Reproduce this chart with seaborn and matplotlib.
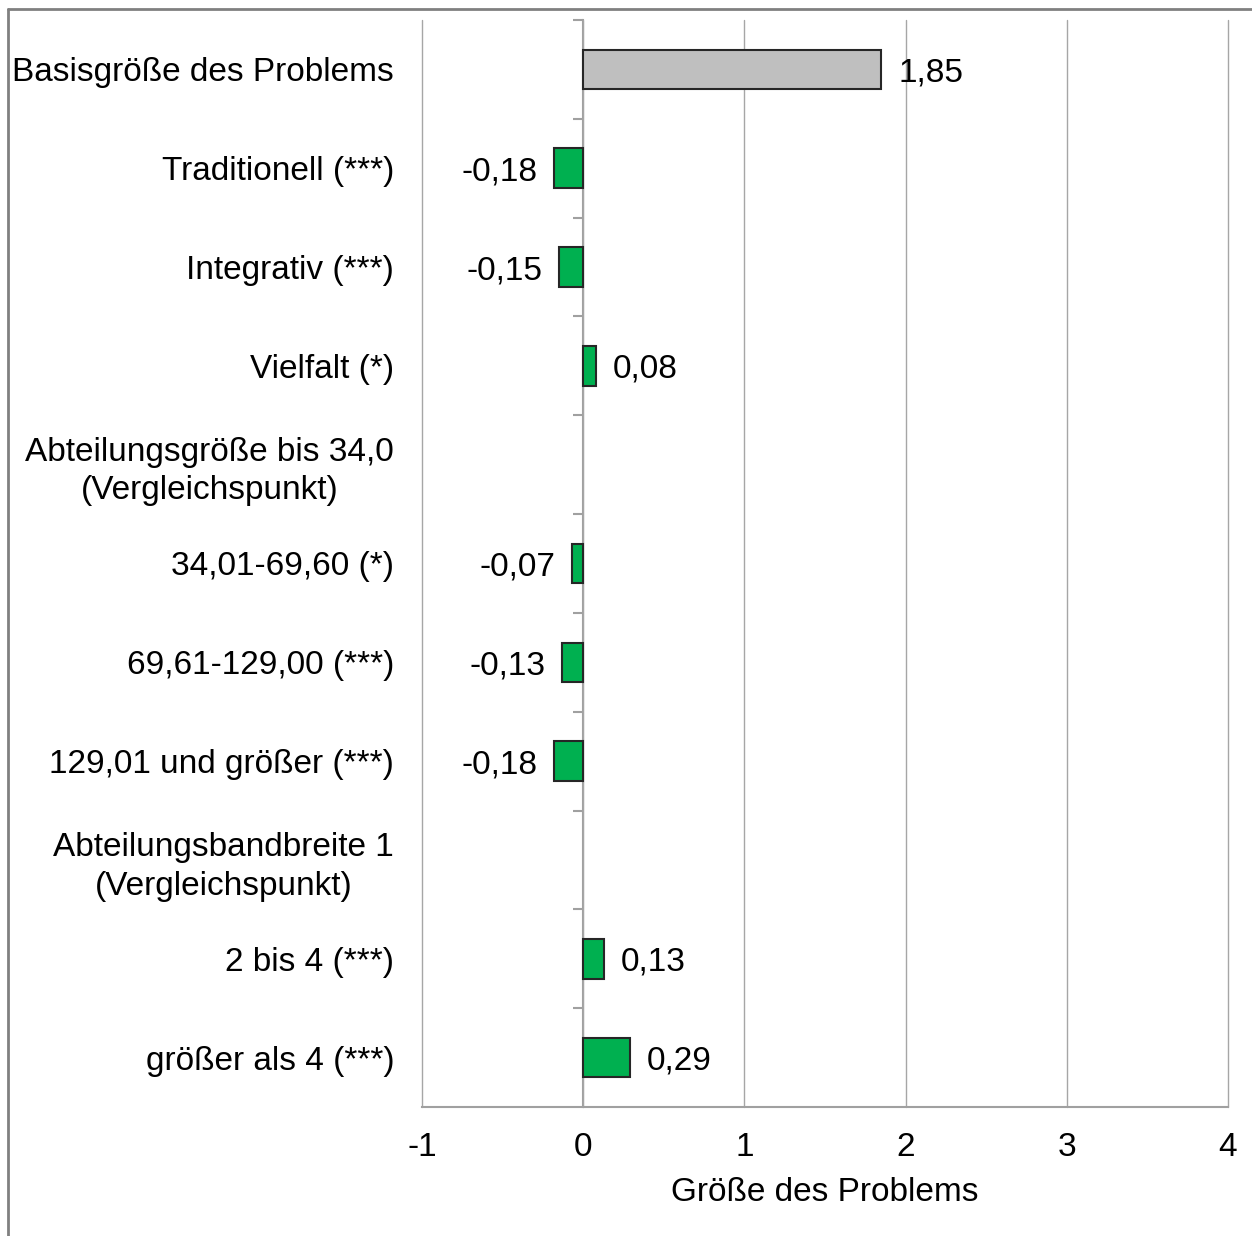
import matplotlib
matplotlib.use("Agg")
import matplotlib.pyplot as plt
from matplotlib.lines import Line2D
import seaborn as sns
import pandas as pd
import numpy as np

categories = [
    "Basisgröße des Problems",
    "Traditionell (***)",
    "Integrativ (***)",
    "Vielfalt (*)",
    "Abteilungsgröße bis 34,0\n(Vergleichspunkt)",
    "34,01-69,60 (*)",
    "69,61-129,00 (***)",
    "129,01 und größer (***)",
    "Abteilungsbandbreite 1\n(Vergleichspunkt)",
    "2 bis 4 (***)",
    "größer als 4 (***)",
]
values = [1.85, -0.18, -0.15, 0.08, None, -0.07, -0.13, -0.18, None, 0.13, 0.29]
x_ticks = [-1, 0, 1, 2, 3, 4]
x_label = "Größe des Problems"

sns.set_style("white")
plt.rcParams["font.family"] = ["Liberation Sans", "DejaVu Sans"]
plt.rcParams["axes.unicode_minus"] = False
plt.rcParams["text.color"] = "black"
plt.rcParams["xtick.color"] = "black"
plt.rcParams["ytick.color"] = "black"
plt.rcParams["axes.labelcolor"] = "black"

df = pd.DataFrame({"category": categories, "value": values}).dropna()
palette = {c: ("#BFBFBF" if i == 0 else "#00B050") for i, c in enumerate(categories)}

fig = plt.figure(figsize=(12.52, 12.36), dpi=100)
ax = fig.add_axes([422 / 1252, 1 - 1107 / 1236, (1228 - 422) / 1252, (1107 - 20) / 1236])

sns.barplot(data=df, x="value", y="category", order=categories, hue="category",
            palette=palette, saturation=1, width=0.4, edgecolor="#262626", linewidth=1.5,
            legend=False, orient="h", ax=ax)

ax.set_xlim(-1, 4)
ax.set_ylim(len(categories) - 0.5, -0.5)

ax.set_xticks(x_ticks)
ax.set_xticklabels([str(t) for t in x_ticks], fontsize=24, color="black")
ax.tick_params(axis="x", length=8, color="#A0A0A0", width=1.5, pad=10, labelcolor="black")
ax.set_xlabel(x_label, fontsize=24, labelpad=10, color="black")

ax.set_yticks(range(len(categories)))
ax.set_yticklabels(categories, fontsize=24, color="black")
for lbl in ax.get_yticklabels():
    lbl.set_multialignment("center")
    lbl.set_linespacing(1.3)
ax.tick_params(axis="y", length=0, pad=20, labelcolor="black")
ax.set_ylabel("")

ax.grid(axis="x", color="#A6A6A6", linewidth=1)
ax.grid(axis="y", visible=False)
for gl in ax.get_xgridlines():
    gl.set_clip_on(False)
ax.set_axisbelow(True)
for s in ["top", "right", "left"]:
    ax.spines[s].set_visible(False)
ax.spines["bottom"].set_color("#A0A0A0")
ax.spines["bottom"].set_linewidth(1.5)

# zero axis with category-boundary ticks
sec = ax.secondary_yaxis((0 - (-1)) / (4 - (-1)))
sec.set_yticks(np.arange(-0.5, len(categories) - 0.5, 1.0))
sec.set_yticklabels([])
sec.tick_params(length=7, color="#A0A0A0", width=1.5)
sec.spines["left"].set_color("#A0A0A0")
sec.spines["left"].set_linewidth(1.5)

for cont in ax.containers:
    for bar in cont:
        w = bar.get_width()
        if np.isnan(w):
            continue
        yc = bar.get_y() + bar.get_height() / 2
        off = 12 if w >= 0 else -12
        ax.annotate(f"{w:.2f}".replace(".", ","), xy=(w, yc), xytext=(off, 0),
                    textcoords="offset points", ha="left" if w >= 0 else "right",
                    va="center_baseline", fontsize=24, color="black")

# outer figure frame (top and left)
fig.add_artist(Line2D([8 / 1252, 1], [1 - 9 / 1236, 1 - 9 / 1236], transform=fig.transFigure,
                      color="#808080", linewidth=2))
fig.add_artist(Line2D([8 / 1252, 8 / 1252], [0, 1 - 9 / 1236], transform=fig.transFigure,
                      color="#808080", linewidth=2))

fig.savefig("out.png", dpi=100, facecolor="white")
